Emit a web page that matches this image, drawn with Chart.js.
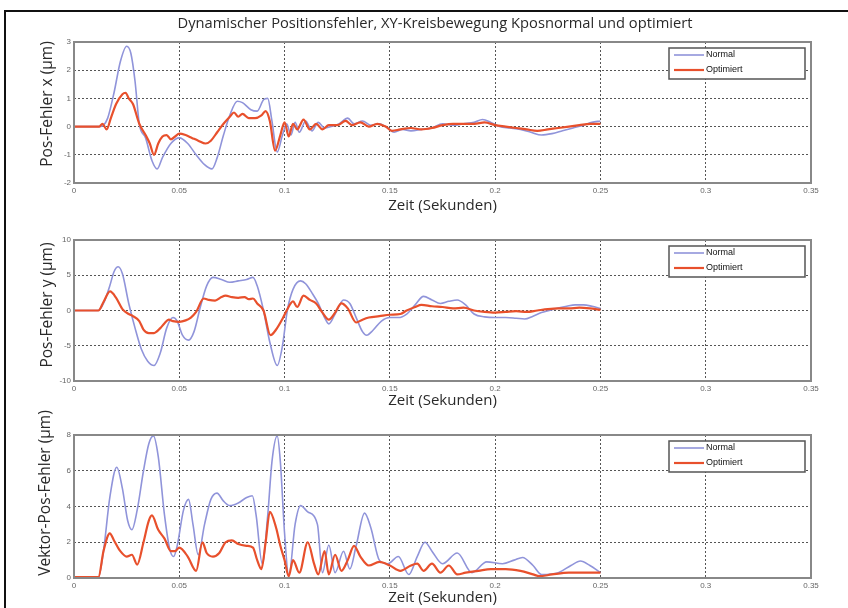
<!DOCTYPE html>
<html lang="de">
<head>
<meta charset="UTF-8">
<title>Dynamischer Positionsfehler</title>
<script src="https://cdn.jsdelivr.net/npm/chart.js"></script>
<style>
  html, body { margin: 0; padding: 0; background: #fff; }
  body { width: 848px; height: 608px; position: relative; overflow: hidden; }
  #frame { position: absolute; left: 4px; top: 10px; width: 900px; height: 700px;
           border-left: 2px solid #111; border-top: 2px solid #111; }
  .plot { position: absolute; left: 0; width: 848px; }
</style>
</head>
<body>
<div id="frame"></div>
<div class="plot" style="top:12px;height:203px"><canvas id="chartX"></canvas></div>
<div class="plot" style="top:215px;height:195px"><canvas id="chartY"></canvas></div>
<div class="plot" style="top:410px;height:198px"><canvas id="chartV"></canvas></div>

<script>
// Zeitachse (s)
const xTicks = [0, 0.05, 0.1, 0.15, 0.2, 0.25, 0.3, 0.35];
const xTickLabels = ['0', '0.05', '0.1', '0.15', '0.2', '0.25', '0.3', '0.35'];

// Pos-Fehler x (µm)
const yTicksX = [-2, -1, 0, 1, 2, 3];
const tXNormal = [0, 0.012, 0.014, 0.016, 0.019, 0.022, 0.025, 0.027, 0.029, 0.031, 0.034, 0.037, 0.0395, 0.042, 0.046, 0.05,
  0.054, 0.058, 0.062, 0.0655, 0.068, 0.071, 0.074, 0.0775, 0.08, 0.084, 0.087, 0.09, 0.092, 0.094, 0.0965, 0.099, 0.101,
  0.103, 0.105, 0.107, 0.11, 0.113, 0.116, 0.119, 0.122, 0.126, 0.13, 0.133, 0.137, 0.141, 0.145, 0.149, 0.152, 0.156,
  0.16, 0.165, 0.17, 0.175, 0.18, 0.185, 0.19, 0.194, 0.198, 0.202, 0.207, 0.212, 0.217, 0.222, 0.227, 0.232, 0.237,
  0.242, 0.246, 0.25];
const posXNormal = [0, 0, 0.05, 0.3, 1.2, 2.3, 2.85, 2.6, 1.6, 0.1, -0.4, -1.2, -1.5, -1.1, -0.6, -0.4,
  -0.6, -1.0, -1.35, -1.5, -1.1, -0.3, 0.4, 0.9, 0.85, 0.6, 0.55, 0.95, 1.0, 0.2, -0.9, -0.3, 0.1,
  -0.3, 0.15, -0.2, 0.2, -0.15, 0.15, -0.05, 0.0, 0.1, 0.3, 0.1, 0.2, 0.05, 0.1, -0.05, -0.2, -0.1,
  -0.15, -0.1, -0.05, 0.1, 0.05, 0.1, 0.15, 0.25, 0.15, 0.0, -0.05, -0.1, -0.2, -0.3, -0.25, -0.15, -0.05,
  0.05, 0.15, 0.2];
const tXOpt = [0, 0.012, 0.0135, 0.0155, 0.0175, 0.02, 0.023, 0.0245, 0.026, 0.028, 0.031, 0.034, 0.036, 0.038, 0.04,
  0.042, 0.044, 0.046, 0.048, 0.05, 0.053, 0.056, 0.059, 0.0625, 0.065, 0.068, 0.071, 0.074, 0.076, 0.078, 0.08,
  0.083, 0.086, 0.089, 0.091, 0.093, 0.0955, 0.098, 0.1, 0.102, 0.104, 0.106, 0.109, 0.112, 0.115, 0.118, 0.121,
  0.125, 0.129, 0.132, 0.136, 0.14, 0.144, 0.148, 0.151, 0.155, 0.16, 0.165, 0.17, 0.175, 0.18, 0.185, 0.19,
  0.195, 0.2, 0.205, 0.21, 0.215, 0.22, 0.225, 0.23, 0.235, 0.24, 0.245, 0.25];
const posXOpt = [0, 0, 0.1, -0.1, 0.3, 0.8, 1.15, 1.2, 1.0, 0.8, 0.1, -0.3, -0.6, -1.0, -0.6,
  -0.35, -0.3, -0.45, -0.35, -0.25, -0.3, -0.4, -0.5, -0.6, -0.5, -0.2, 0.1, 0.35, 0.5, 0.35, 0.45,
  0.3, 0.3, 0.4, 0.55, 0.2, -0.85, -0.3, 0.15, -0.35, 0.1, -0.1, 0.25, -0.1, 0.1, -0.1, 0.05,
  0.05, 0.2, 0.05, 0.15, 0.0, 0.1, 0.0, -0.15, -0.1, -0.05, -0.1, -0.05, 0.05, 0.1, 0.1, 0.1,
  0.15, 0.05, 0.0, -0.05, -0.1, -0.15, -0.1, -0.05, 0.0, 0.05, 0.1, 0.1];

// Pos-Fehler y (µm)
const yTicksY = [-10, -5, 0, 5, 10];
const tYNormal = [0, 0.0116, 0.014, 0.017, 0.019, 0.021, 0.023, 0.026, 0.029, 0.032, 0.035, 0.038, 0.041, 0.044, 0.047,
  0.049, 0.0515, 0.0544, 0.057, 0.06, 0.063, 0.066, 0.07, 0.074, 0.078, 0.082, 0.085, 0.087, 0.09, 0.093, 0.0965,
  0.099, 0.1013, 0.104, 0.1076, 0.11, 0.113, 0.116, 0.119, 0.121, 0.124, 0.128, 0.131, 0.134, 0.137, 0.139, 0.142,
  0.146, 0.15, 0.154, 0.158, 0.162, 0.166, 0.17, 0.174, 0.178, 0.182, 0.186, 0.19, 0.195, 0.2, 0.205, 0.21,
  0.214, 0.218, 0.222, 0.228, 0.234, 0.238, 0.242, 0.246, 0.25];
const posYNormal = [0, 0, 1.0, 3.5, 5.5, 6.2, 5.2, 1.0, -2.5, -5.5, -7.2, -7.8, -6.0, -2.5, -1.0,
  -1.5, -3.5, -4.2, -3.0, 0.5, 3.5, 4.7, 4.4, 4.0, 4.2, 4.4, 4.7, 3.5, 0, -4.5, -7.8,
  -5.0, 0, 3.0, 4.2, 3.8, 2.5, 1.0, -1.0, -1.9, -0.5, 1.5, 1.0, -1.0, -3.0, -3.5, -2.8,
  -1.5, -1.0, -1.0, -0.5, 0.8, 2.0, 1.5, 1.0, 1.3, 1.5, 0.8, -0.5, -0.9, -1.0, -1.0, -1.1,
  -1.2, -0.8, -0.3, 0.2, 0.6, 0.8, 0.8, 0.6, 0.3];
const tYOpt = [0, 0.0116, 0.014, 0.0171, 0.02, 0.023, 0.026, 0.028, 0.031, 0.033, 0.0355, 0.038, 0.041, 0.043, 0.045,
  0.047, 0.05, 0.053, 0.0555, 0.058, 0.0616, 0.064, 0.067, 0.07, 0.072, 0.075, 0.078, 0.081, 0.083, 0.085, 0.087,
  0.09, 0.0933, 0.096, 0.099, 0.101, 0.104, 0.106, 0.109, 0.112, 0.115, 0.118, 0.121, 0.124, 0.127, 0.13, 0.134,
  0.137, 0.14, 0.145, 0.15, 0.155, 0.158, 0.162, 0.165, 0.17, 0.175, 0.18, 0.185, 0.19, 0.195, 0.2, 0.205,
  0.21, 0.215, 0.22, 0.225, 0.23, 0.235, 0.24, 0.245, 0.25];
const posYOpt = [0, 0, 1.2, 2.7, 1.8, 0.2, -0.5, -0.8, -1.5, -2.7, -3.2, -3.2, -2.5, -1.8, -1.3,
  -1.5, -1.6, -1.4, -1.0, -0.2, 1.7, 1.5, 1.4, 1.9, 2.1, 1.9, 1.8, 1.9, 1.6, 1.7, 1.0,
  0, -3.5, -2.7, -1.2, 0, 1.3, 0.5, 2.1, 1.5, 1.0, -0.3, -1.3, -0.3, 1.0, 0.3, -1.7,
  -1.3, -1.0, -0.8, -0.6, -0.5, 0.0, 0.5, 0.8, 0.6, 0.5, 0.3, 0.4, 0.0, -0.2, -0.3, -0.2,
  -0.1, -0.2, 0.0, 0.2, 0.3, 0.3, 0.4, 0.3, 0.1];

// Vektor-Pos-Fehler (µm)
const yTicksV = [0, 2, 4, 6, 8];
const tVNormal = [0, 0.0116, 0.014, 0.017, 0.0203, 0.023, 0.0255, 0.0275, 0.03, 0.033, 0.0355, 0.0377, 0.04, 0.043,
  0.0455, 0.0473, 0.049, 0.052, 0.0544, 0.0565, 0.059, 0.062, 0.065, 0.0679, 0.071, 0.074, 0.078, 0.082, 0.0847,
  0.0865, 0.0894, 0.092, 0.094, 0.0965, 0.098, 0.1, 0.102, 0.105, 0.1076, 0.111, 0.1156, 0.118, 0.121, 0.124,
  0.128, 0.131, 0.134, 0.138, 0.141, 0.145, 0.149, 0.154, 0.159, 0.163, 0.1667, 0.17, 0.175, 0.182, 0.189,
  0.196, 0.2035, 0.209, 0.213, 0.218, 0.222, 0.23, 0.236, 0.2405, 0.245, 0.25];
const vecNormal = [0.05, 0.05, 1.5, 4.5, 6.2, 5.0, 3.2, 2.7, 3.8, 6.0, 7.5, 7.95, 6.8, 3.5,
  1.6, 1.2, 1.8, 3.8, 4.4, 3.0, 1.3, 3.0, 4.4, 4.75, 4.3, 4.05, 4.2, 4.5, 4.6,
  3.5, 0.8, 3.5, 6.5, 7.95, 6.5, 2.5, 0.1, 3.0, 4.05, 3.7, 3.0, 0.3, 1.85, 0.3,
  1.5, 0.5, 1.8, 3.63, 2.8, 1.0, 0.8, 1.2, 0.2, 1.2, 2.0, 1.5, 0.8, 1.4, 0.3,
  0.9, 0.8, 1.0, 1.15, 0.7, 0.2, 0.3, 0.7, 0.95, 0.7, 0.3];
const tVOpt = [0, 0.0116, 0.014, 0.017, 0.019, 0.022, 0.025, 0.0275, 0.03, 0.033, 0.0355, 0.037, 0.04, 0.043, 0.046,
  0.048, 0.05, 0.054, 0.058, 0.061, 0.063, 0.066, 0.069, 0.072, 0.075, 0.078, 0.082, 0.085, 0.087, 0.089, 0.091,
  0.093, 0.096, 0.098, 0.1, 0.102, 0.104, 0.107, 0.111, 0.114, 0.116, 0.119, 0.121, 0.124, 0.127, 0.13, 0.133,
  0.136, 0.14, 0.145, 0.15, 0.155, 0.16, 0.163, 0.166, 0.17, 0.174, 0.178, 0.182, 0.186, 0.192, 0.198, 0.205,
  0.212, 0.218, 0.221, 0.227, 0.235, 0.242, 0.25];
const vecOpt = [0.05, 0.05, 1.5, 2.5, 2.1, 1.5, 1.2, 1.3, 0.75, 2.0, 3.2, 3.5, 2.7, 2.2, 1.5,
  1.5, 1.7, 1.2, 0.4, 2.0, 1.4, 1.2, 1.4, 2.0, 2.1, 1.9, 1.8, 1.7, 1.0, 0.5, 2.0,
  3.7, 2.8, 1.8, 1.0, 0.1, 1.0, 0.3, 2.0, 0.8, 0.2, 1.5, 0.2, 1.3, 0.4, 1.0, 1.8,
  1.2, 0.7, 0.9, 0.7, 0.4, 0.7, 0.8, 0.4, 0.8, 0.3, 0.7, 0.2, 0.3, 0.4, 0.5, 0.5,
  0.4, 0.2, 0.1, 0.2, 0.3, 0.3, 0.3];

const seriesNames = ['Normal', 'Optimiert'];
const colNormal = '#9094da';
const colOpt = '#e8502c';

function pts(t, v) { return t.map((x, i) => ({ x: x, y: v[i] })); }

// Achsenrahmen, Legende, Überschrift und y-Beschriftung
const boxLegend = {
  id: 'boxLegend',
  afterDraw(chart, args, opts) {
    const { ctx, chartArea: a } = chart;
    ctx.save();
    ctx.strokeStyle = '#888';
    ctx.lineWidth = 2;
    ctx.strokeRect(a.left, a.top, a.right - a.left, a.bottom - a.top);

    const w = 136, h = 31;
    const x = a.right - 6 - w, y = a.top + 6;
    ctx.fillStyle = '#fff';
    ctx.fillRect(x, y, w, h);
    ctx.strokeStyle = '#555';
    ctx.lineWidth = 1.5;
    ctx.strokeRect(x, y, w, h);
    ctx.font = '9px "Liberation Sans", sans-serif';
    ctx.textBaseline = 'middle';
    ctx.textAlign = 'left';
    chart.data.datasets.forEach((ds, i) => {
      const ly = y + 7 + i * 15;
      ctx.strokeStyle = ds.borderColor;
      ctx.lineWidth = ds.borderWidth;
      ctx.beginPath();
      ctx.moveTo(x + 5, ly);
      ctx.lineTo(x + 35, ly);
      ctx.stroke();
      ctx.fillStyle = '#111';
      ctx.fillText(ds.label, x + 37, ly);
    });

    ctx.fillStyle = '#2a2a2a';
    ctx.textAlign = 'center';
    if (opts.title) {
      ctx.font = '14.7px "Open Sans", sans-serif';
      ctx.fillText(opts.title, 435, opts.titleY);
    }
    ctx.translate(opts.yTitleX, opts.yTitleY);
    ctx.rotate(-Math.PI / 2);
    ctx.font = '15.5px "Open Sans", sans-serif';
    ctx.fillText(opts.yTitle, 0, 0);
    ctx.restore();
  }
};

function makeChart(id, o) {
  return new Chart(document.getElementById(id), {
    type: 'line',
    data: {
      datasets: [
        { label: seriesNames[0], data: pts(o.tN, o.vN), borderColor: colNormal, borderWidth: 1.6, order: 1 },
        { label: seriesNames[1], data: pts(o.tO, o.vO), borderColor: colOpt, borderWidth: 2.2, order: 0 }
      ]
    },
    options: {
      responsive: true,
      maintainAspectRatio: false,
      animation: false,
      events: [],
      elements: {
        point: { radius: 0 },
        line: { cubicInterpolationMode: 'monotone', fill: false }
      },
      layout: { padding: { top: o.padTop, right: 37, bottom: 0, left: 0 } },
      plugins: {
        legend: { display: false },
        tooltip: { enabled: false },
        boxLegend: {
          title: o.title, titleY: 12,
          yTitle: o.yTitle, yTitleX: o.yTitleX, yTitleY: o.yTitleY
        }
      },
      scales: {
        x: {
          type: 'linear',
          min: 0,
          max: 0.35,
          afterBuildTicks: s => { s.ticks = xTicks.map(v => ({ value: v })); },
          afterFit: s => { s.height = o.xHeight; },
          ticks: {
            padding: 3,
            maxRotation: 0,
            autoSkip: false,
            color: '#666',
            font: { family: '"Liberation Sans", sans-serif', size: 8 },
            callback: (v, i) => xTickLabels[i]
          },
          grid: { color: '#555', drawTicks: false, lineWidth: 1 },
          border: { display: false, dash: [2, 2] },
          title: {
            display: true,
            text: 'Zeit (Sekunden)',
            color: '#2a2a2a',
            font: { family: '"Open Sans", sans-serif', size: 15 },
            padding: { top: 0, bottom: o.xTitlePad }
          }
        },
        y: {
          min: o.yTicks[0],
          max: o.yTicks[o.yTicks.length - 1],
          afterBuildTicks: s => { s.ticks = o.yTicks.map(v => ({ value: v })); },
          afterFit: s => { s.width = 74; },
          ticks: {
            padding: 3,
            color: '#666',
            font: { family: '"Liberation Sans", sans-serif', size: 8 },
            callback: v => String(v)
          },
          grid: { color: '#555', drawTicks: false, lineWidth: 1 },
          border: { display: false, dash: [2, 2] }
        }
      }
    },
    plugins: [boxLegend]
  });
}

makeChart('chartX', {
  tN: tXNormal, vN: posXNormal, tO: tXOpt, vO: posXOpt, yTicks: yTicksX,
  yTitle: 'Pos-Fehler x (µm)', yTitleX: 48, yTitleY: 92,
  title: 'Dynamischer Positionsfehler, XY-Kreisbewegung Kposnormal und optimiert',
  padTop: 30, xHeight: 32, xTitlePad: 0
});
makeChart('chartY', {
  tN: tYNormal, vN: posYNormal, tO: tYOpt, vO: posYOpt, yTicks: yTicksY,
  yTitle: 'Pos-Fehler y (µm)', yTitleX: 48, yTitleY: 90,
  padTop: 25, xHeight: 29, xTitlePad: 0
});
makeChart('chartV', {
  tN: tVNormal, vN: vecNormal, tO: tVOpt, vO: vecOpt, yTicks: yTicksV,
  yTitle: 'Vektor-Pos-Fehler (µm)', yTitleX: 46, yTitleY: 83,
  padTop: 25, xHeight: 30, xTitlePad: 1.6
});
</script>
</body>
</html>
